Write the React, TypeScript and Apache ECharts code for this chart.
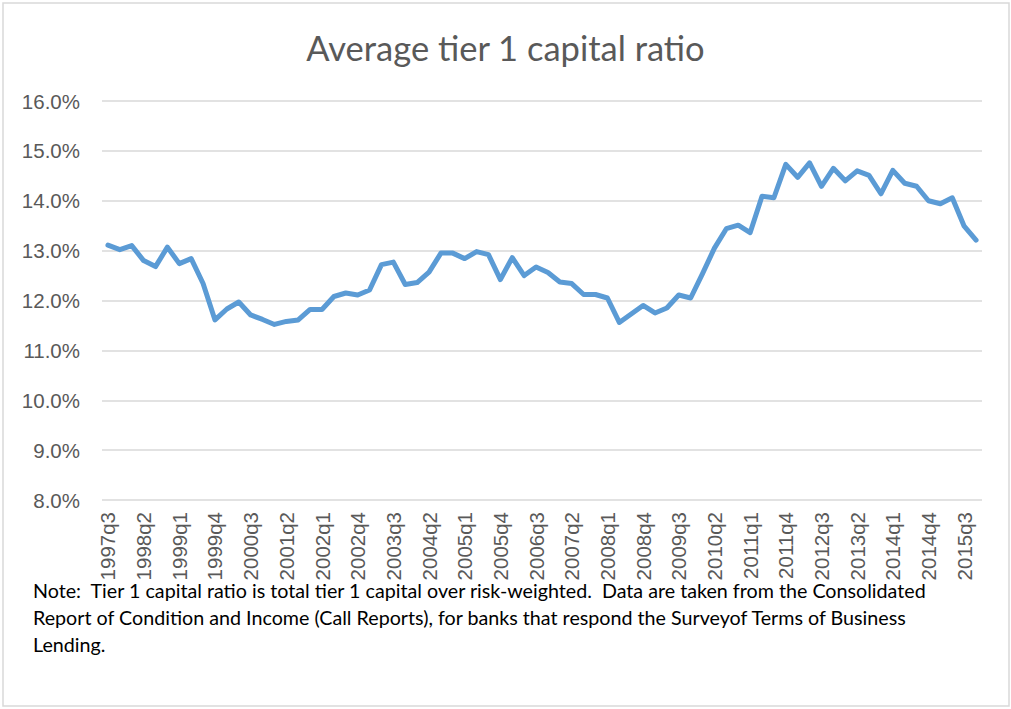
import React, { useEffect, useRef } from "react";
import * as echarts from "echarts";

const START_YEAR = 1997;
const START_QUARTER = 3;
const QUARTER_COUNT = 74;
const quarters: string[] = [];
for (let k = 0; k < QUARTER_COUNT; k++) {
  const q = START_QUARTER - 1 + k;
  quarters.push(`${START_YEAR + Math.floor(q / 4)}q${(q % 4) + 1}`);
}

const tier1Ratio: number[] = [
  13.11, 13.02, 13.1, 12.8, 12.68, 13.07, 12.74, 12.84, 12.34, 11.61,
  11.83, 11.97, 11.71, 11.62, 11.52, 11.58, 11.61, 11.82, 11.82, 12.08,
  12.15, 12.11, 12.21, 12.72, 12.77, 12.32, 12.36, 12.57, 12.95, 12.95,
  12.84, 12.98, 12.92, 12.42, 12.86, 12.5, 12.67, 12.56, 12.37, 12.34,
  12.12, 12.12, 12.05, 11.56, 11.73, 11.9, 11.75, 11.85, 12.11, 12.05,
  12.54, 13.05, 13.44, 13.51, 13.36, 14.09, 14.06, 14.73, 14.47, 14.76,
  14.29, 14.65, 14.4, 14.6, 14.51, 14.14, 14.61, 14.35, 14.29, 14.0,
  13.94, 14.06, 13.49, 13.21,
];

const titleText = "Average tier 1 capital ratio";
const noteLines: string[] = [
  "Note:  Tier 1 capital ratio is total tier 1 capital over risk-weighted.  Data are taken from the Consolidated",
  "Report of Condition and Income (Call Reports), for banks that respond the Surveyof Terms of Business",
  "Lending.",
];

export default function App() {
  const ref = useRef<HTMLDivElement>(null);
  useEffect(() => {
    if (!ref.current) return;
    const chart = echarts.init(ref.current, undefined, { renderer: "svg" });
    chart.setOption({
      animation: false,
      backgroundColor: "#ffffff",
      title: {
        text: titleText,
        left: "center",
        top: 25,
        textStyle: {
          fontFamily: "Lato, 'Liberation Sans', sans-serif",
          fontWeight: "normal",
          fontSize: 34.5,
          color: "#595959",
        },
      },
      grid: { left: 102, right: 29, top: 101, bottom: 209 },
      xAxis: {
        type: "category",
        data: quarters,
        boundaryGap: true,
        axisLine: { show: false },
        axisTick: { show: false },
        axisLabel: {
          interval: 2,
          rotate: 90,
          margin: 12,
          color: "#595959",
          fontSize: 20.5,
          fontFamily: "'Liberation Sans', Arial, sans-serif",
        },
        splitLine: { show: false },
      },
      yAxis: {
        type: "value",
        min: 8,
        max: 16,
        interval: 1,
        axisLine: { show: false },
        axisTick: { show: false },
        axisLabel: {
          margin: 22,
          color: "#595959",
          fontSize: 20.5,
          fontFamily: "'Liberation Sans', Arial, sans-serif",
          formatter: (v: number) => v.toFixed(1) + "%",
        },
        splitLine: { show: true, lineStyle: { color: "#d9d9d9", width: 1.5 } },
      },
      series: [
        {
          type: "line",
          data: tier1Ratio,
          showSymbol: false,
          symbol: "none",
          lineStyle: { color: "#5b9bd5", width: 5, join: "round", cap: "round" },
        },
      ],
      graphic: [
        {
          type: "rect",
          silent: true,
          shape: { x: 3, y: 3, width: 1006, height: 703 },
          style: { fill: "none", stroke: "#d9d9d9", lineWidth: 1.5 },
        },
        ...noteLines.map((line, i) => ({
          type: "text",
          left: 33,
          top: 580 + i * 27,
          style: {
            text: line,
            fill: "#000000",
            font: "19.7px Lato, 'Liberation Sans', sans-serif",
          },
        })),
      ],
    });
    return () => chart.dispose();
  }, []);
  return (
    <div
      ref={ref}
      style={{ position: "absolute", left: 0, top: 0, width: 1011, height: 709 }}
    />
  );
}
